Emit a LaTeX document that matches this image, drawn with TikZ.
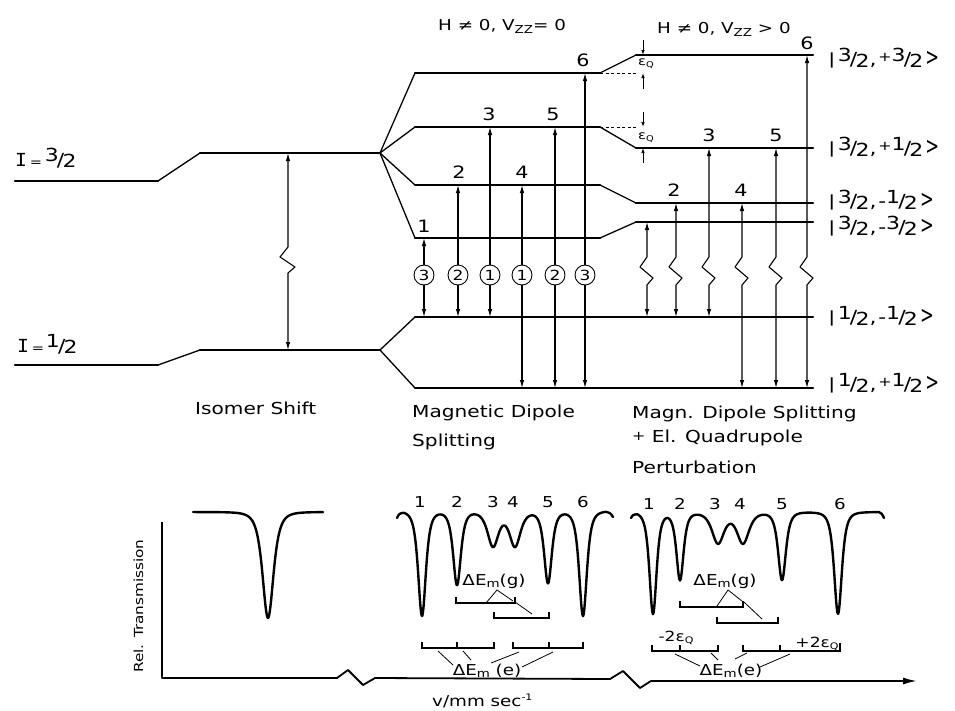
\documentclass[tikz,border=0pt]{standalone}
\usepackage{graphicx}
\usepackage{fontspec}
\setmainfont[FakeStretch=1.22]{DejaVu Sans}
\newfontfamily\monoI[FakeStretch=1.1]{DejaVu Sans Mono}
\usetikzlibrary{arrows.meta,calc}
\newcommand\fs[1]{\fontsize{#1}{#1}\selectfont}
\newcommand\hfr[2]{\raisebox{0.42ex}{#1}\kern-0.1em/\kern-0.1em\raisebox{-0.2ex}{#2}}
\newcommand\pl{\raisebox{0.4ex}{\fs{13}+}}
\newcommand\kt[3]{\raisebox{0.1ex}{\scalebox{1}[0.85]{|}}\kern0.12em\hfr{#1}{2},\kern0.1em#2\hfr{#3}{2}\kern0.12em\raisebox{-0.05ex}{\scalebox{0.75}[1.35]{>}}}
\begin{document}
\begin{tikzpicture}[x=1pt,y=-1pt,
  declare function={dp(\x,\m,\s)=1/(1+min(((\x-\m)/\s)^2,100))^2;},
  lev/.style={line width=2.4pt,line cap=round},
  slant/.style={line width=1.3pt,line cap=round},
  dsh/.style={line width=0.8pt,dash pattern=on 3pt off 2.5pt},
  tr/.style={line width=1.1pt,-{Latex[length=8pt,width=4.5pt]}},
  trr/.style={line width=1.1pt,{Latex[length=8pt,width=4.5pt]}-{Latex[length=8pt,width=4.5pt]},line join=round},
  eqa/.style={line width=0.9pt,-{Latex[length=5pt,width=3.5pt]}},
  circ/.style={circle,draw,line width=0.9pt,minimum size=20pt,inner sep=0pt,font=\fs{14}},
  num/.style={inner sep=0pt,font=\fs{17}},
  lab/.style={inner sep=0pt,anchor=base west,font=\fs{16.5}},
  ttl/.style={inner sep=0pt,anchor=base west,font=\fs{15}},
  kl/.style={inner sep=0pt,anchor=west,font=\fs{18}},
  snum/.style={inner sep=0pt,font=\fs{15}},
  dl/.style={inner sep=0pt,anchor=base,font=\fs{15}},
  spec/.style={line width=2.4pt,line join=round,line cap=round},
  axis/.style={line width=1.8pt,line join=round},
  brk/.style={line width=1.2pt},
  ldr/.style={line width=0.8pt},
]
\fill[white] (0,0) rectangle (955,710);
\useasboundingbox (0,0) rectangle (955,710);

% ---------- left levels ----------
\draw[lev] (15,181) -- (158,181); \draw[slant] (158,181) -- (200,153); \draw[lev] (200,153) -- (380,153);
\draw[lev] (15,365) -- (158,365); \draw[slant] (158,365) -- (200,350); \draw[lev] (200,350) -- (380,350);
\node[inner sep=0pt,anchor=base west,font=\fs{18}] (I3) at (15,166) {{\monoI I}\kern0.15em{\fs{12}=}\kern0.15em\hfr{3}{2}};
\node[inner sep=0pt,anchor=base west,font=\fs{18}] (I1) at (17,352) {{\monoI I}\kern0.15em{\fs{12}=}\kern0.1em\hfr{1}{2}};

% isomer shift arrow
\coordinate (it) at (288,153); \coordinate (ib) at (288,350);
\draw[trr] (it) -- (288,247) -- ++(-8,10) -- ++(15,10) -- ++(-7,6) -- (ib);

% ---------- magnetic + quadrupole levels ----------
\foreach \ya/\yb in {73/55,127/148,185/203,238/222}{
  \draw[slant] (380,153) -- (415,\ya);
  \draw[lev] (415,\ya) -- (600,\ya);
  \draw[slant] (600,\ya) -- (636,\yb);
  \draw[lev] (636,\yb) -- (813,\yb);
}
\draw[slant] (380,350) -- (415,317); \draw[lev] (415,317) -- (813,317);
\draw[slant] (380,350) -- (415,388); \draw[lev] (415,388) -- (813,388);
\draw[dsh] (600,73) -- (638,73);
\draw[dsh] (600,127) -- (638,127);

% epsilon_Q markers
\coordinate (eqa1) at (643,55); \coordinate (eqb1) at (643,73);
\coordinate (eqa2) at (643,127); \coordinate (eqb2) at (643,148);
\coordinate (eqs1) at (643,40); \coordinate (eqe1) at (643,89);
\coordinate (eqs2) at (643,112); \coordinate (eqe2) at (643,163);
\draw[eqa] (eqs1) -- (eqa1); \draw[eqa] (eqe1) -- (eqb1);
\draw[eqa] (eqs2) -- (eqa2); \draw[eqa] (eqe2) -- (eqb2);
\node[inner sep=0pt,font=\fs{12}] (eql1) at (646,64) {ε\raisebox{-0.3ex}{\fs{8}Q}};
\node[inner sep=0pt,font=\fs{12}] (eql2) at (646,138) {ε\raisebox{-0.3ex}{\fs{8}Q}};

% titles
\node[ttl] (t1) at (438,30) {H ≠ 0, V\raisebox{-0.45ex}{\fs{11}ZZ}= 0};
\node[ttl] (t2) at (657,33) {H ≠ 0, V\raisebox{-0.45ex}{\fs{11}ZZ} > 0};

% state labels
\node[kl] (s1) at (828,58) {\kt{3}{\pl}{3}};
\node[kl] (s2) at (828,147) {\kt{3}{\pl}{1}};
\node[kl] (s3) at (828,200) {\kt{3}{-}{1}};
\node[kl] (s4) at (828,226) {\kt{3}{-}{3}};
\node[kl] (s5) at (828,316) {\kt{1}{-}{1}};
\node[kl] (s6) at (828,383) {\kt{1}{\pl}{1}};

% magnetic transitions
\foreach \n/\x/\yt/\yb/\c in {1/424/238/317/3,2/458/185/317/2,3/490/127/317/1,4/522/185/388/1,5/555/127/388/2,6/585/73/388/3}{
  \coordinate (mt\n) at (\x,\yt); \coordinate (mb\n) at (\x,\yb);
  \node[circ,fill=white] (mc\n) at (\x,275) {\c};
  \draw[tr] (mc\n) -- (mt\n);
  \draw[tr] (mc\n) -- (mb\n);
}
\node[num] (ml1) at (424,226) {1};
\node[num] (ml2) at (459,172) {2};
\node[num] (ml3) at (489,114) {3};
\node[num] (ml4) at (522,172) {4};
\node[num] (ml5) at (553,114) {5};
\node[num] (ml6) at (583,60) {6};

% quadrupole transitions
\foreach \n/\x/\yt/\yb in {1/647/222/317,2/676/203/317,3/709/148/317,4/742/203/388,5/776/148/388,6/807/55/388}{
  \coordinate (rt\n) at (\x,\yt); \coordinate (rb\n) at (\x,\yb);
  \draw[trr] (rt\n) -- (\x,257) -- ++(-7,10) -- ++(13,11) -- ++(-6,7) -- (rb\n);
}
\node[num] (rl2) at (674,190) {2};
\node[num] (rl3) at (709,135) {3};
\node[num] (rl4) at (741,190) {4};
\node[num] (rl5) at (776,135) {5};
\node[num] (rl6) at (807,43) {6};

% section labels
\node[lab] (n1) at (195,414) {Isomer Shift};
\node[lab] (n2) at (412,417) {Magnetic Dipole};
\node[lab] (n3) at (412,446) {Splitting};
\node[lab] (n4) at (632,418) {Magn. Dipole Splitting};
\node[lab] (n5) at (632,442) {\raisebox{0.2ex}{\fs{13}+} El. Quadrupole};
\node[lab] (n6) at (632,473) {Perturbation};

% ---------- spectra ----------
\coordinate (ay) at (162,522); \coordinate (ao) at (162,678); \coordinate (ae) at (917,681);
\draw[axis,-{Latex[length=14pt,width=7pt]}] (ay) -- (ao) -- (337,678) -- (348,670) -- (363,685) -- (375,678)
   -- (610,679) -- (623,671) -- (640,688) -- (651,681) -- (ae);
\node[inner sep=0pt,rotate=90,anchor=base west,font=\fs{12.5}] (ylab) at (143,673) {Rel. Transmission};
\node[inner sep=0pt,anchor=base west,font=\fs{15}] (xlab) at (432,706) {v/mm sec\raisebox{0.7ex}{\fs{9}-1}};

% isomer spectrum
\draw[spec] plot[domain=193:323,samples=200] (\x,{512+106*dp(\x,268,10)});

% magnetic spectrum
\draw[spec] (397,518) .. controls (398.5,514) and (400.5,512.8) .. (404,512.8)
  -- plot[domain=404:606,samples=300] (\x,{511+105*dp(\x,422,7)+74*dp(\x,457,7)+35*dp(\x,493,10)+35*dp(\x,515,10)+72*dp(\x,548,7)+105*dp(\x,583,7)})
  .. controls (609,511.8) and (611,513.5) .. (613,517);
\foreach \n/\x in {1/420,2/457,3/493,4/513,5/548,6/583}{\node[snum] (sm\n) at (\x,502) {\n};}

% quadrupole spectrum
\draw[spec] (631,518) .. controls (632.5,514.5) and (634.5,514.2) .. (637,514.2)
  -- plot[domain=637:879,samples=350] (\x,{512+102*dp(\x,653,6.5)+68*dp(\x,680,6.5)+31*dp(\x,718,11)+31*dp(\x,743,11)+68*dp(\x,782,7)+102*dp(\x,838,7)})
  .. controls (881,512.3) and (882.5,514.5) .. (884,518);
\foreach \n/\x in {1/649,2/680,3/715,4/740,5/782,6/840}{\node[snum] (sq\n) at (\x,504) {\n};}

% magnetic brackets
\draw[brk] (456,597) -- (456,603) -- (515,603) -- (515,597);
\draw[brk] (494,612) -- (494,618) -- (549,618) -- (549,612);
\draw[brk] (422,642) -- (422,648) -- (494,648) -- (494,642) (457,648) -- (457,642);
\draw[brk] (513,642) -- (513,648) -- (583,648) -- (583,642) (549,648) -- (549,642);
\node[dl] (gm) at (494,585) {ΔE\raisebox{-0.35ex}{\fs{11}m}(g)};
\draw[ldr] (486,603) -- (497,590) -- (513,601);
\draw[ldr] (515,602) -- (532,614);
\node[dl] (em) at (487,675) {ΔE\raisebox{-0.35ex}{\fs{11}m} (e)};
\draw[ldr] (438,651) -- (453,665);
\draw[ldr] (463,651) -- (471,660);
\draw[ldr] (519,652) -- (491,663);
\draw[ldr] (553,652) -- (522,667);

% quadrupole brackets
\draw[brk] (680,601) -- (680,607) -- (743,607) -- (743,601);
\draw[brk] (717,617) -- (717,623) -- (778,623) -- (778,617);
\draw[brk] (652,645) -- (652,651) -- (718,651) -- (718,645) (680,651) -- (680,645);
\draw[brk] (743,645) -- (743,651) -- (840,651) -- (840,643) (780,651) -- (780,645);
\node[dl] (gq) at (725,585) {ΔE\raisebox{-0.35ex}{\fs{11}m}(g)};
\draw[ldr] (717,606) -- (728,590) -- (742,601);
\draw[ldr] (744,602) -- (762,619);
\node[dl] (eq) at (731,675) {ΔE\raisebox{-0.35ex}{\fs{11}m}(e)};
\draw[ldr] (675,654) -- (700,666);
\draw[ldr] (711,653) -- (718,660);
\draw[ldr] (747,653) -- (735,659);
\draw[ldr] (790,654) -- (760,667);
\node[inner sep=0pt,anchor=base,font=\fs{14}] (m2e) at (676,641) {-2ε\raisebox{-0.3ex}{\fs{9}Q}};
\node[inner sep=0pt,anchor=base,font=\fs{14}] (p2e) at (817,647) {+2ε\raisebox{-0.3ex}{\fs{9}Q}};
\end{tikzpicture}
\end{document}
